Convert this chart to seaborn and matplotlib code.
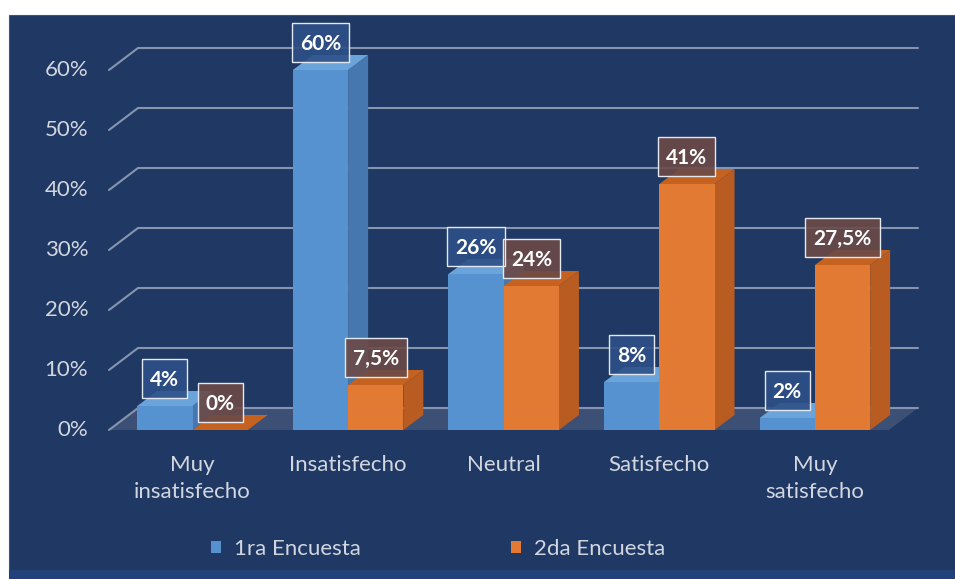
import matplotlib
matplotlib.use("Agg")
import matplotlib.pyplot as plt
import pandas as pd
import seaborn as sns
from matplotlib.patches import Polygon, Rectangle, Patch
from matplotlib.lines import Line2D
from matplotlib.transforms import IdentityTransform

# ---- data -------------------------------------------------------------
categories = ["Muy\ninsatisfecho", "Insatisfecho", "Neutral", "Satisfecho", "Muy\nsatisfecho"]
series_names = ["1ra Encuesta", "2da Encuesta"]
encuesta_1 = [4, 60, 26, 8, 2]
encuesta_2 = [0, 7.5, 24, 41, 27.5]
value_labels_1 = ["4%", "60%", "26%", "8%", "2%"]
value_labels_2 = ["0%", "7,5%", "24%", "41%", "27,5%"]
y_ticks = [0, 10, 20, 30, 40, 50, 60]
y_tick_labels = ["0%", "10%", "20%", "30%", "40%", "50%", "60%"]

# ---- style ------------------------------------------------------------
NAVY = "#1F3864"
TEXT = "#D2D6DE"
GRID = "#8794AD"
FLOOR = "#3C4F74"
FRONT = ["#5592CF", "#E27A33"]
SIDE = ["#4677AE", "#B85C22"]
TOP = ["#6AA4DA", "#C5621F"]
LABEL_FC = ["#2E5088", "#6C4A47"]

sns.set_theme(style="white")
plt.rcParams["font.family"] = ["Lato", "DejaVu Sans"]

W, H = 955, 579
fig = plt.figure(figsize=(W / 100, H / 100), dpi=100, facecolor="white")

# dark background panel
fig.patches.append(Rectangle((9 / W, 0), 1 - 9 / W, (H - 15) / H, transform=fig.transFigure,
                             facecolor=NAVY, edgecolor="#3A5485", linewidth=0.8, zorder=-10))
fig.patches.append(Rectangle((9 / W, 0), 1 - 9 / W, 9 / H, transform=fig.transFigure,
                             facecolor="#22407A", edgecolor="none", zorder=-9))

# plot area: front floor edge from x=109 to 889 px, value 0 at y=430 px, 60 at y=70 px
L, R, Y0, Y60 = 109, 889, 430, 70
C0, STEP = 192.5, 155.6
ax = fig.add_axes([L / W, 1 - Y0 / H, (R - L) / W, (Y0 - Y60) / H])

df = pd.DataFrame({
    "categoria": categories * 2,
    "encuesta": [series_names[0]] * 5 + [series_names[1]] * 5,
    "valor": encuesta_1 + encuesta_2,
})
sns.barplot(data=df, x="categoria", y="valor", hue="encuesta", order=categories,
            hue_order=series_names, palette=FRONT, saturation=1, width=0.71,
            errorbar=None, legend=False, ax=ax)

ax.set_xlim((L - C0) / STEP, (R - C0) / STEP)
ax.set_ylim(0, 60)
ax.patch.set_visible(False)
for s in ax.spines.values():
    s.set_visible(False)
ax.set_xlabel("")
ax.set_ylabel("")
ax.set_yticks(y_ticks, y_tick_labels)
ax.set_xticks(range(len(categories)), categories)
ax.tick_params(axis="y", length=0, pad=15, labelsize=16, labelcolor=TEXT)
ax.tick_params(axis="x", length=0, pad=18, labelsize=16, labelcolor=TEXT)
for t in ax.get_xticklabels():
    t.set_linespacing(1.42)
for t in ax.get_yticklabels():
    t.set_va("center")

ID = IdentityTransform()
DEPTH = (29, 22)      # wall/floor depth in pixels
BAR_D = (20, 15)      # bar depth in pixels


def disp(x, y):
    return ax.transData.transform((x, y))


# floor
fl = disp(ax.get_xlim()[0], 0)
fr = disp(ax.get_xlim()[1], 0)
ax.add_patch(Polygon([fl, fr, (fr[0] + DEPTH[0], fr[1] + DEPTH[1]), (fl[0] + DEPTH[0], fl[1] + DEPTH[1])],
                     closed=True, transform=ID, facecolor=FLOOR, edgecolor="none",
                     clip_on=False, zorder=0.5))

# gridlines on the back wall plus the diagonal stubs on the side wall
for v in y_ticks:
    fx, fy = disp(ax.get_xlim()[0], v)
    rx, _ = disp(ax.get_xlim()[1], v)
    bx0, by = fx + DEPTH[0], fy + DEPTH[1]
    bx1 = rx + DEPTH[0]
    ax.add_line(Line2D([fx, bx0, bx1], [fy, by, by], transform=ID, color=GRID,
                       linewidth=1.5, clip_on=False, zorder=0.8))

# 3D faces for every bar, drawn left to right
bars = []
for s, cont in enumerate(ax.containers):
    labels = value_labels_1 if s == 0 else value_labels_2
    for i, p in enumerate(cont.patches):
        bars.append((p.get_x(), s, p, labels[i]))
bars.sort(key=lambda b: b[0])

dx, dy = BAR_D
for k, (_, s, p, lab) in enumerate(bars):
    x0, w, h = p.get_x(), p.get_width(), p.get_height()
    br = disp(x0 + w, 0)
    tl = disp(x0, h)
    tr = disp(x0 + w, h)
    z = 2 + 3 * k
    p.set_zorder(z + 1)
    p.set_clip_on(False)
    p.set_edgecolor("none")
    side = [br, (br[0] + dx, br[1] + dy), (tr[0] + dx, tr[1] + dy), tr]
    top = [tl, tr, (tr[0] + dx, tr[1] + dy), (tl[0] + dx, tl[1] + dy)]
    ax.add_patch(Polygon(side, closed=True, transform=ID, facecolor=SIDE[s],
                         edgecolor="none", clip_on=False, zorder=z))
    ax.add_patch(Polygon(top, closed=True, transform=ID, facecolor=TOP[s],
                         edgecolor="none", clip_on=False, zorder=z + 0.5))

# value labels in framed boxes just above each bar
renderer = fig.canvas.get_renderer()
BOX_GAP, BOX_H, BOX_PADX = 8, 39, 8
for _, s, p, lab in bars:
    cx, ty = disp(p.get_x() + p.get_width() / 2, p.get_height())
    cy = ty + BOX_GAP + BOX_H / 2
    t = ax.text(cx, cy - 1, lab, transform=ID, ha="center", va="center", fontsize=15,
                fontweight="bold", color="white", clip_on=False, zorder=101)
    tw = t.get_window_extent(renderer).width
    ax.add_patch(Rectangle((cx - tw / 2 - BOX_PADX, ty + BOX_GAP), tw + 2 * BOX_PADX, BOX_H,
                           transform=ID, facecolor=LABEL_FC[s], alpha=0.9, edgecolor="none",
                           clip_on=False, zorder=100))
    ax.add_patch(Rectangle((cx - tw / 2 - BOX_PADX, ty + BOX_GAP), tw + 2 * BOX_PADX, BOX_H,
                           transform=ID, facecolor="none", edgecolor="#E4E8F0", linewidth=1.0,
                           clip_on=False, zorder=100.5))

# legend
handles = [Patch(facecolor=FRONT[0], edgecolor="none"), Patch(facecolor=FRONT[1], edgecolor="none")]
fig.legend(handles, series_names, loc="center", bbox_to_anchor=(438 / W, 1 - 549 / H), ncol=2,
           frameon=False, fontsize=16, labelcolor=TEXT, handlelength=0.45, handleheight=0.45,
           handletextpad=0.6, columnspacing=6.75)

fig.savefig("out.png", dpi=100, facecolor="white")
